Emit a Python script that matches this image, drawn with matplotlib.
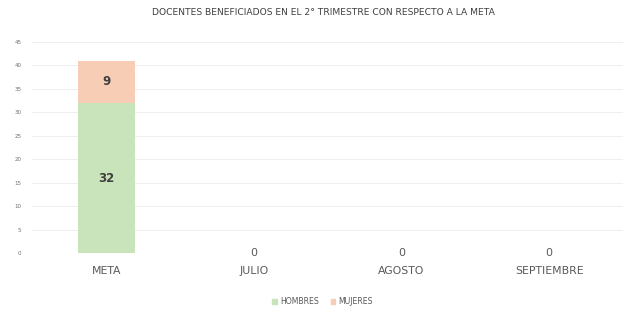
import matplotlib
matplotlib.use("Agg")
import matplotlib.pyplot as plt
from matplotlib.patches import Patch

categories = ["META", "JULIO", "AGOSTO", "SEPTIEMBRE"]
hombres = [32, 0, 0, 0]
mujeres = [9, 0, 0, 0]
yticks = [0, 5, 10, 15, 20, 25, 30, 35, 40, 45]
title = "DOCENTES BENEFICIADOS EN EL 2° TRIMESTRE CON RESPECTO A LA META"

c_h = "#c9e4bb"
c_m = "#f8cdb6"

fig = plt.figure(figsize=(6.23, 3.16), dpi=100)
ax = fig.add_axes([0.052, 0.199, 0.948, 0.668])
x = range(len(categories))
ax.bar(x, hombres, width=0.385, color=c_h, zorder=2)
ax.bar(x, mujeres, width=0.385, bottom=hombres, color=c_m, zorder=2)

for i in x:
    h, m = hombres[i], mujeres[i]
    if h + m == 0:
        ax.text(i, 0, "0", ha="center", va="center", fontsize=8, color="#595959")
    else:
        if h:
            ax.text(i, h / 2, str(h), ha="center", va="center", fontsize=8.5,
                    color="#404040", fontweight="bold")
        if m:
            ax.text(i, h + m / 2, str(m), ha="center", va="center", fontsize=8.5,
                    color="#404040", fontweight="bold")

ax.set_xlim(-0.5, 3.5)
ax.set_ylim(0, 45)
ax.set_yticks(yticks)
ax.set_yticklabels([str(v) for v in yticks], fontsize=4, color="#707070")
ax.set_xticks(list(x))
ax.set_xticklabels(categories, fontsize=7.8, color="#595959")
ax.tick_params(axis="x", length=0, pad=9)
ax.tick_params(axis="y", length=0, pad=8)
ax.grid(axis="y", color="#ededed", linewidth=0.6, zorder=0)
for s in ax.spines.values():
    s.set_visible(False)

fig.text(0.519, 0.962, title, ha="center", va="center", fontsize=6.6, color="#404040")

handles = [Patch(color=c_h, label="HOMBRES"), Patch(color=c_m, label="MUJERES")]
fig.legend(handles=handles, loc="center", bbox_to_anchor=(0.518, 0.045), ncol=2,
           frameon=False, fontsize=5.6, handlelength=0.6, handleheight=0.6,
           handletextpad=0.4, columnspacing=1.5, labelcolor="#595959")

fig.savefig("out.png", dpi=100, facecolor="white")
